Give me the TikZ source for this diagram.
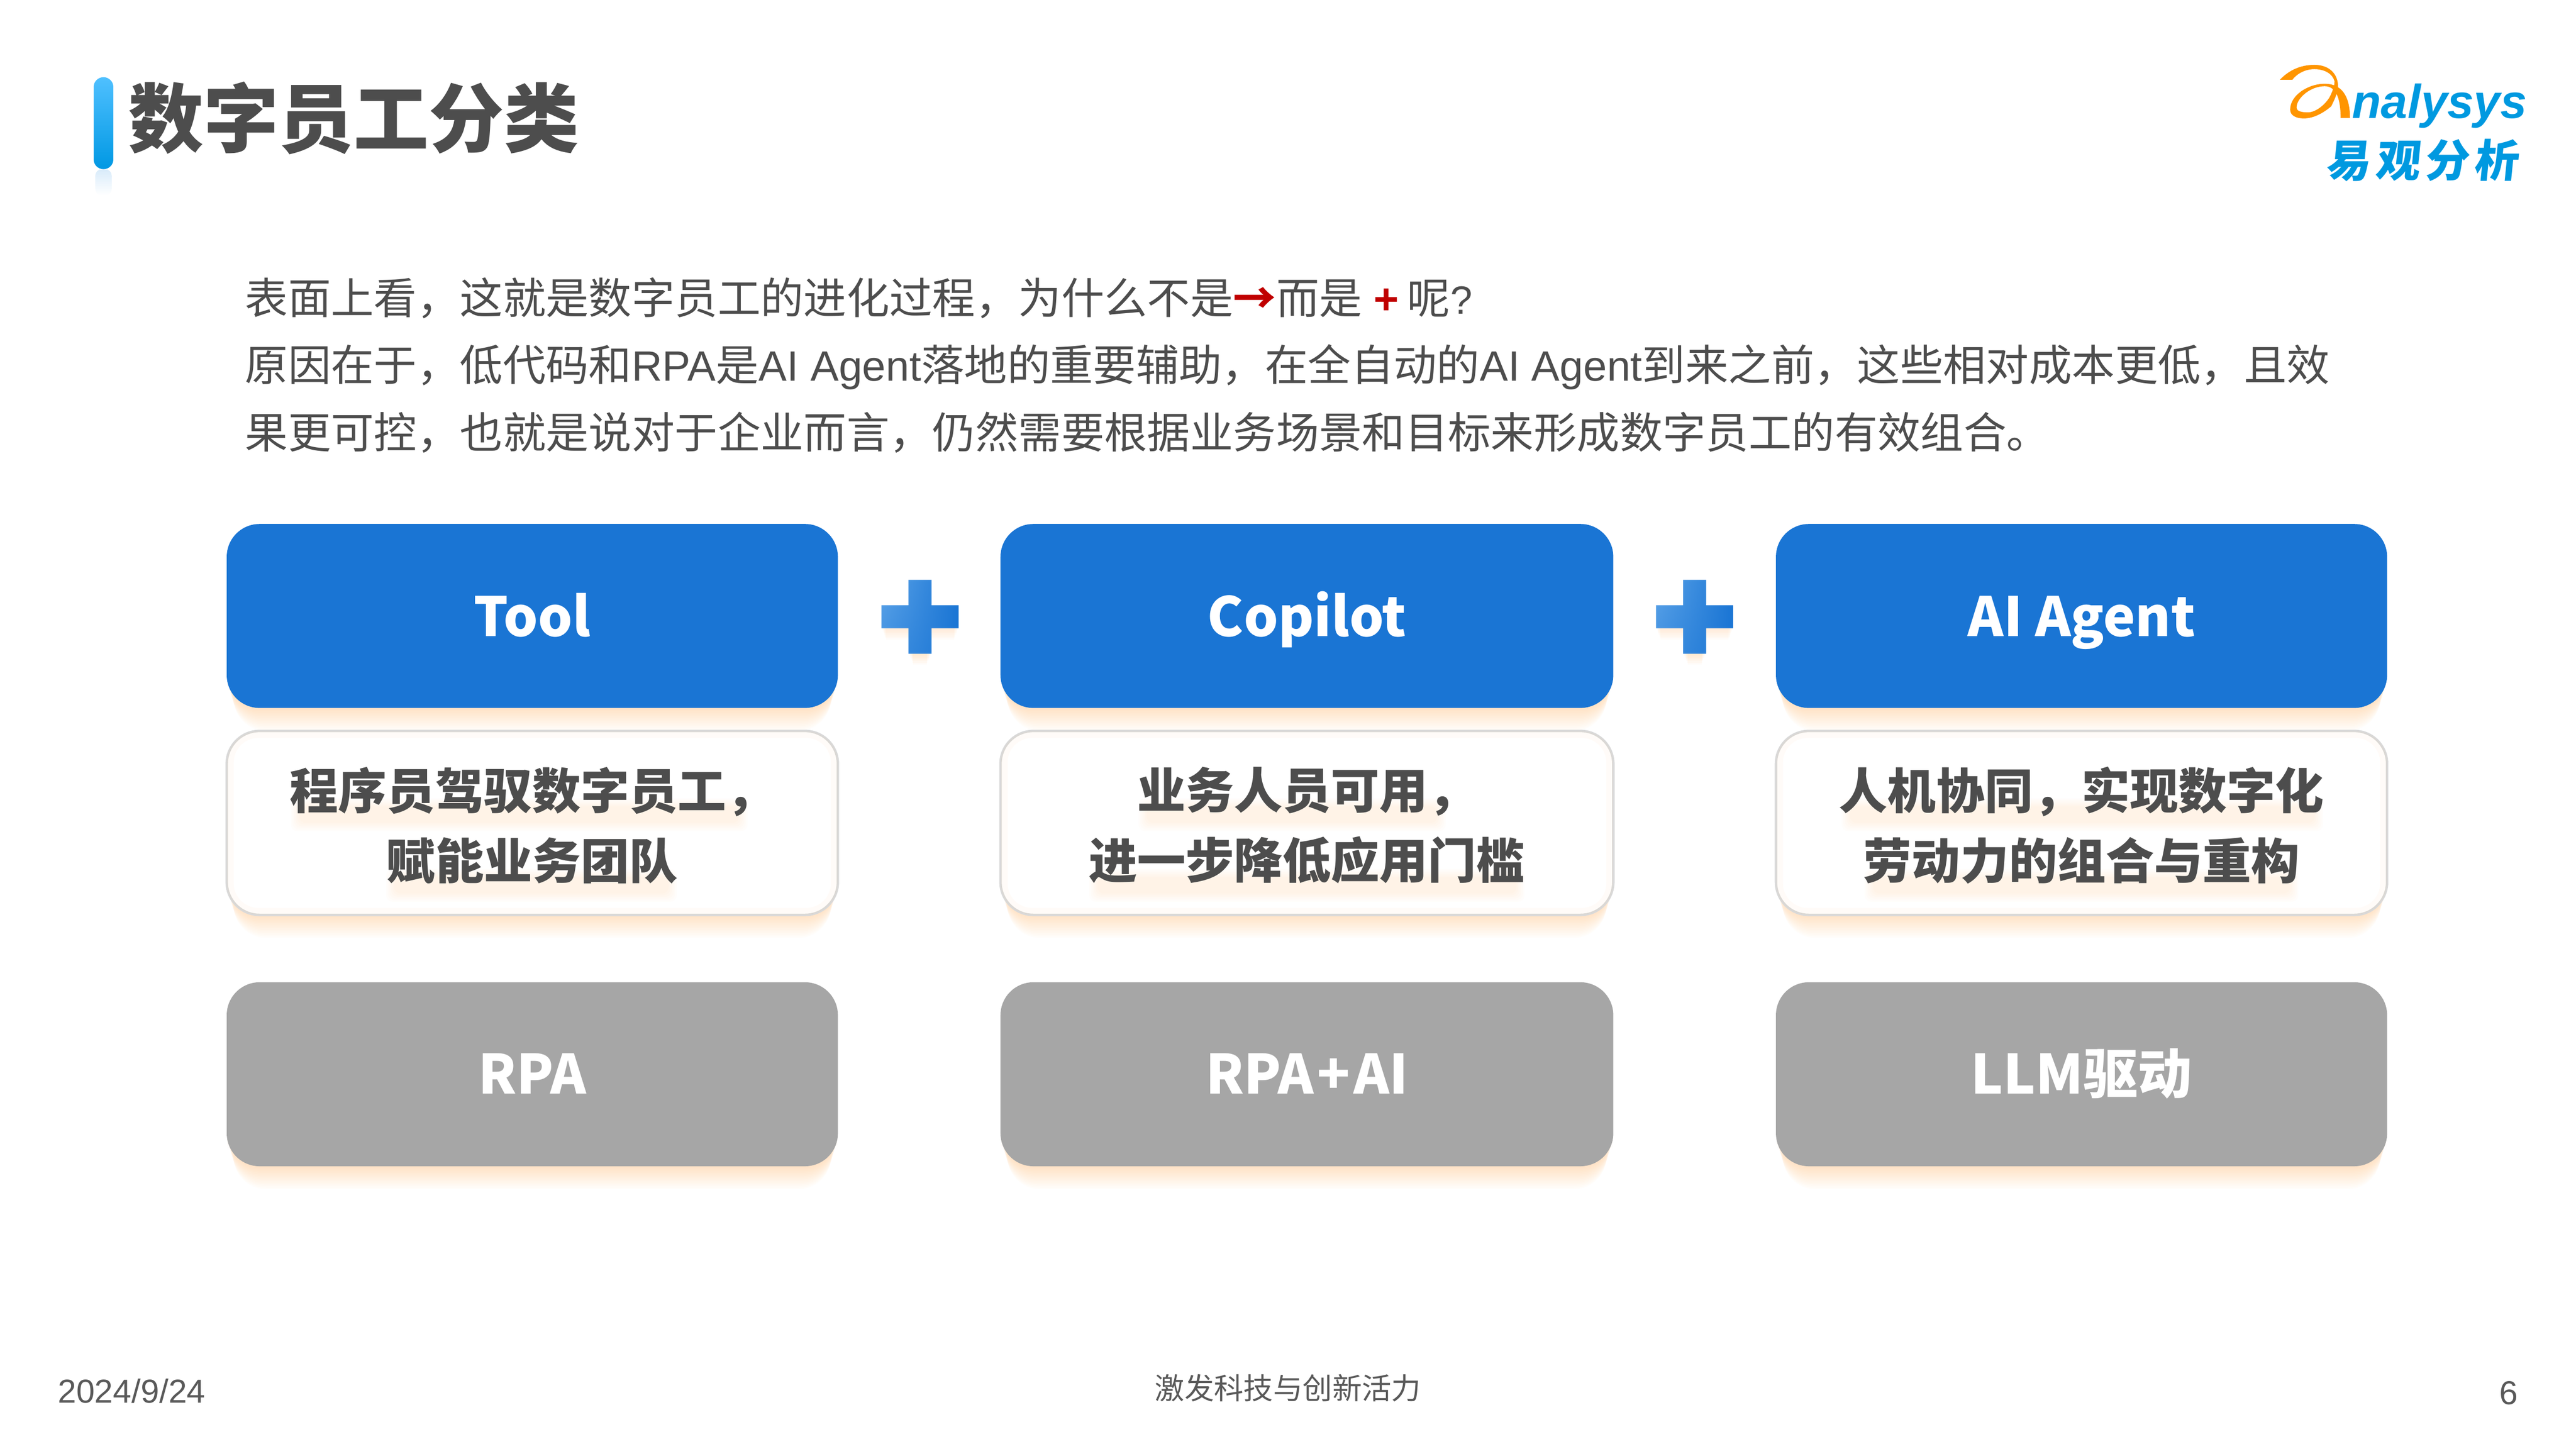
\documentclass[tikz,border=0pt]{standalone}
\usepackage{fontspec}
\usetikzlibrary{shadings}
\setmainfont{Noto Sans CJK SC}
\newfontfamily\arial{Liberation Sans}
\newfontfamily\logocjk[FakeSlant=0.1]{Noto Sans CJK SC}
\newcommand{\latn}[1]{{\arial\fontsize{25.8}{26}\selectfont #1}}
\definecolor{inkgray}{HTML}{4D4D4D}
\definecolor{footgray}{HTML}{595959}
\definecolor{topblue}{HTML}{1A75D4}
\definecolor{plusblue}{HTML}{5BA3E8}
\definecolor{lowgray}{HTML}{A6A6A6}
\definecolor{rimgray}{HTML}{D9D9D9}
\definecolor{glowc}{HTML}{FFB050}
\definecolor{logoblue}{HTML}{0099E0}
\definecolor{logoorange}{HTML}{FF9500}
\definecolor{markred}{HTML}{C00000}
\definecolor{bartop}{HTML}{4FC0FF}
\definecolor{barlow}{HTML}{0098E3}
\definecolor{barfade}{HTML}{D8EBFA}
\tikzset{
	topbox/.style={fill=topblue, text=white, rounded corners=20pt, minimum width=372pt, minimum height=112pt, inner sep=0pt, text height=31.5pt, text depth=6.5pt, font=\bfseries\fontsize{33}{33}\selectfont},
	lowbox/.style={fill=lowgray, text=white, rounded corners=20pt, minimum width=372pt, minimum height=112pt, inner sep=0pt, text height=31pt, text depth=7pt, font=\bfseries\fontsize{33}{33}\selectfont},
	descbox/.style={draw=rimgray, line width=1.5pt, fill=white, rounded corners=20pt, minimum width=372pt, minimum height=112pt, inner sep=0pt},
	descrim/.style={glowc, opacity=0.04, line width=4pt, rounded corners=17pt},
	desctext/.style={align=center, text=inkgray, inner sep=0pt, font=\bfseries\fontsize{29.5}{42.5}\selectfont},
	bodyline/.style={anchor=base west, inner sep=0pt, text=inkgray, font=\fontsize{26.15}{26.15}\selectfont},
	foottext/.style={inner sep=0pt, text=footgray}
}
\def\softglow(#1,#2)(#3,#4){\foreach \g in {1,...,14}{\fill[glowc, opacity=0.025, rounded corners=20pt] (#1+\g*0.3, #2) rectangle (#3-\g*0.3, #4+\g);}}
\def\softband(#1,#2)(#3,#4){\foreach \g in {0,...,5}{\fill[glowc, opacity=0.018, rounded corners=4pt] (#1+\g, #2+\g) rectangle (#3-\g, #4-\g);}}
\def\plusmark(#1,#2){
	\foreach \g in {1,...,7}{\fill[glowc, opacity=0.04] (#1-7+\g*0.4, #2) rectangle (#1+7-\g*0.4, #2+22+\g);\fill[glowc, opacity=0.03] (#1-23.5+\g*0.4, #2) rectangle (#1+23.5-\g*0.4, #2+7+\g);}
	\shade[shading=bilinear interpolation, lower left=plusblue!60!topblue, lower right=topblue, upper right=topblue, upper left=plusblue] (#1-7, #2-22.5) -- (#1+7, #2-22.5) -- (#1+7, #2-7) -- (#1+23.5, #2-7) -- (#1+23.5, #2+7) -- (#1+7, #2+7) -- (#1+7, #2+22.5) -- (#1-7, #2+22.5) -- (#1-7, #2+7) -- (#1-23.5, #2+7) -- (#1-23.5, #2-7) -- (#1-7, #2-7) -- cycle;
}

\begin{document}
\begin{tikzpicture}[x=1pt, y=-1pt]
	%%%%% START %%%%%
	\useasboundingbox (0, 0) rectangle (1568, 882);
	\fill[white] (0, 0) rectangle (1568, 882);

	% heading
	\shade[top color=barfade, bottom color=white, rounded corners=4pt] (58, 103) rectangle (68, 119);
	\shade[top color=bartop, bottom color=barlow, rounded corners=6pt] (57, 47) rectangle (69, 103);
	\node[anchor=west, inner sep=0pt, text=inkgray, font=\bfseries\fontsize{45.7}{45.7}\selectfont] (heading) at (78, 72) {数字员工分类};

	% logo
	\fill[logoorange] (1387.7, 48.6) .. controls (1393, 43) and (1400, 39.5) .. (1408.7, 39.5)
		.. controls (1417, 39.5) and (1422, 44) .. (1423, 50.5)
		.. controls (1423.5, 56) and (1421, 60.5) .. (1419, 64.7)
		.. controls (1414, 69) and (1408, 72.1) .. (1402.4, 72.1)
		.. controls (1397, 72.1) and (1394, 70) .. (1394, 66.7)
		.. controls (1394, 58) and (1405, 51) .. (1415, 51)
		.. controls (1425, 51) and (1430.4, 58) .. (1430.4, 71.8)
		-- (1424.7, 71.8)
		.. controls (1424.7, 60) and (1422, 52.5) .. (1415, 52.5)
		.. controls (1406, 52.5) and (1397.9, 60) .. (1397.9, 65.3)
		.. controls (1397.9, 67.5) and (1400, 68.4) .. (1404.9, 68.4)
		.. controls (1410, 68.4) and (1416, 63) .. (1418.3, 58.6)
		.. controls (1420, 55) and (1421, 52) .. (1421, 49.6)
		.. controls (1420, 45) and (1415, 42.1) .. (1408.7, 42.1)
		.. controls (1403, 42.1) and (1398, 45) .. (1395.3, 48.6)
		-- cycle;
	\node[anchor=base west, inner sep=0pt, text=logoblue, font=\arial\bfseries\itshape\fontsize{29}{29}\selectfont] (logoword) at (1431.5, 72) {nalysys};
	\node[anchor=west, inner sep=0pt, text=logoblue, font=\logocjk\bfseries\fontsize{27}{27}\selectfont] (logoname) at (1415.5, 97.5) {易\hspace{3pt}观\hspace{3pt}分\hspace{3pt}析};

	% intro text
	\node[bodyline] (intro1) at (149, 191) {表面上看，这就是数字员工的进化过程，为什么不是\textcolor{markred}{\bfseries →}而是\textcolor{markred}{\arial\bfseries\ +\hspace{5pt}}呢{\arial\fontsize{24}{24}\selectfont ?}};
	\node[bodyline] (intro2) at (149, 232) {原因在于，低代码和\latn{RPA}是\latn{AI Agent}落地的重要辅助，在全自动的\latn{AI Agent}到来之前，这些相对成本更低，且效};
	\node[bodyline] (intro3) at (149, 273) {果更可控，也就是说对于企业而言，仍然需要根据业务场景和目标来形成数字员工的有效组合。};

	% shadows
	\softglow(138, 400)(510, 431)
	\softglow(609, 400)(982, 431)
	\softglow(1081, 400)(1453, 431)
	\softglow(138, 520)(510, 557)
	\softglow(609, 520)(982, 557)
	\softglow(1081, 520)(1453, 557)
	\softglow(138, 680)(510, 710)
	\softglow(609, 680)(982, 710)
	\softglow(1081, 680)(1453, 710)

	% top row
	\node[topbox] (tool) at (324, 375) {Tool};
	\node[topbox, minimum width=373pt] (copilot) at (795.5, 375) {Copilot};
	\node[topbox] (agent) at (1267, 375) {AI Agent};
	\plusmark(560, 375.5)
	\plusmark(1031.5, 375.5)

	% middle row
	\node[descbox] (toolbox) at (324, 501) {};
	\node[descbox, minimum width=373pt] (copilotbox) at (795.5, 501) {};
	\node[descbox] (agentbox) at (1267, 501) {};
	\foreach \b in {toolbox, copilotbox, agentbox}
		\draw[descrim] ([shift={(3,-3)}]\b.south west) rectangle ([shift={(-3,3)}]\b.north east);
	\softband(177, 486)(455, 506)
	\softband(235, 529)(412, 549)
	\softband(693, 486)(880, 506)
	\softband(663, 529)(928, 549)
	\softband(1121, 486)(1414, 506)
	\softband(1135, 529)(1399, 549)
	\node[desctext] (tooltext) at (324, 502.5) {程序员驾驭数字员工，\\赋能业务团队};
	\node[desctext] (copilottext) at (795.5, 502.5) {业务人员可用，\\进一步降低应用门槛};
	\node[desctext] (agenttext) at (1267, 502.5) {人机协同，实现数字化\\劳动力的组合与重构};

	% bottom row
	\node[lowbox] (rpa) at (324, 654) {RPA};
	\node[lowbox, minimum width=373pt] (rpaai) at (795.5, 654) {RPA\hspace{2pt}+\hspace{2pt}AI};
	\node[lowbox] (llm) at (1267, 654) {LLM驱动};

	% footer
	\node[foottext, anchor=west, font=\arial\fontsize{20.2}{20.2}\selectfont] (date) at (35, 847) {2024/9/24};
	\node[foottext, font=\fontsize{18}{18}\selectfont] (motto) at (784, 845) {激发科技与创新活力};
	\node[foottext, font=\arial\fontsize{20.2}{20.2}\selectfont] (pageno) at (1527, 848) {6};
	%%%%% END %%%%%
\end{tikzpicture}
\end{document}
